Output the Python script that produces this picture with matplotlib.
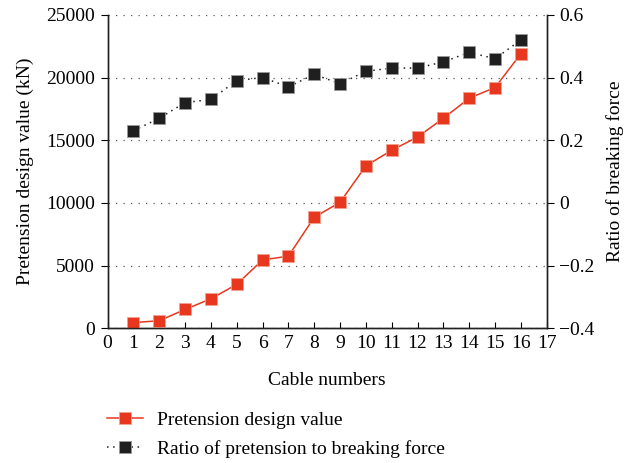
import matplotlib
matplotlib.use("Agg")
import matplotlib.pyplot as plt
from matplotlib.lines import Line2D

plt.rcParams['font.family'] = ['Liberation Serif', 'DejaVu Serif']

# %% data
cables = list(range(1, 17))
pretension = [450, 600, 1500, 2350, 3500, 5450, 5750, 8850, 10050,
              12950, 14200, 15250, 16750, 18350, 19200, 21900]
ratio = [0.23, 0.27, 0.32, 0.33, 0.39, 0.40, 0.37, 0.41, 0.38,
         0.42, 0.43, 0.43, 0.45, 0.48, 0.46, 0.52]

red = '#e8371f'
blk = '#1f1f1f'
fs = 14

# %% plot
fig = plt.figure(figsize=(6.27, 4.63), dpi=100)
ax1 = fig.add_axes([0.1715, 0.291, 0.7005, 0.677])
ax2 = ax1.twinx()

ax1.set_xlim(0, 17)
ax1.set_ylim(0, 25000)
ax2.set_ylim(-0.4, 0.6)
ax1.set_xticks(range(0, 18))
ax1.set_yticks(range(0, 25001, 5000))
ax2.set_yticks([-0.4, -0.2, 0, 0.2, 0.4, 0.6])
ax2.set_yticklabels(['\u22120.4', '\u22120.2', '0', '0.2', '0.4', '0.6'])

ax1.grid(axis='y', linestyle=(0, (1, 5)), color='#555555', linewidth=0.9)
ax1.set_axisbelow(True)

ax1.plot(cables, pretension, color=red, linewidth=1.1, marker='s', markersize=9,
         markerfacecolor=red, markeredgecolor='#f4a090', markeredgewidth=0.6, zorder=3)
ax2.plot(cables, ratio, color=blk, linewidth=1.1, linestyle=(0, (1, 3)), marker='s',
         markersize=9, markerfacecolor=blk, markeredgecolor='#999999', markeredgewidth=0.6)

for ax in (ax1, ax2):
    ax.spines['top'].set_visible(False)
    for s in ('left', 'right', 'bottom'):
        ax.spines[s].set_linewidth(1.0)
        ax.spines[s].set_color('#222222')
ax1.tick_params(axis='x', direction='in', length=4, labelsize=fs, pad=5)
ax1.tick_params(axis='y', direction='out', length=5, labelsize=fs, pad=4)
ax2.tick_params(axis='y', direction='out', length=5, labelsize=fs, pad=4)

ax1.set_xlabel('Cable numbers', fontsize=fs, labelpad=14)
ax1.set_ylabel('Pretension design value (kN)', fontsize=fs, labelpad=9)
ax2.set_ylabel('Ratio of breaking force', fontsize=fs, labelpad=8)

handles = [
    Line2D([], [], color=red, linewidth=1.1, marker='s', markersize=9,
           markerfacecolor=red, markeredgecolor='#f4a090', markeredgewidth=0.6),
    Line2D([], [], color=blk, linewidth=1.1, linestyle=(0, (1, 3)), marker='s', markersize=9,
           markerfacecolor=blk, markeredgecolor='#999999', markeredgewidth=0.6),
]
labels = ['Pretension design value', 'Ratio of pretension to breaking force']
fig.legend(handles, labels, loc='upper left', bbox_to_anchor=(0.171, 0.112),
           frameon=False, fontsize=fs, handlelength=1.85, handletextpad=0.72,
           labelspacing=0.6, borderaxespad=0, borderpad=0)

fig.savefig('out.png', dpi=100)
